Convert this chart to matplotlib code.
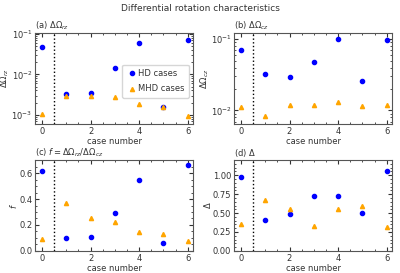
import matplotlib.pyplot as plt
import numpy as np

cases = [0, 1, 2, 3, 4, 5, 6]

# (a) Delta Omega_rz
hd_rz = [0.047, 0.00334, 0.0034, 0.0144, 0.060, 0.00157, 0.070]
mhd_rz = [0.00102, 0.00296, 0.0030, 0.00274, 0.00188, 0.00155, 0.00091]

# (b) Delta Omega_cz
hd_cz = [0.0713, 0.0324, 0.0296, 0.0475, 0.100, 0.0258, 0.0967]
mhd_cz = [0.0113, 0.0084, 0.0120, 0.0118, 0.0130, 0.0116, 0.0121]

# (c) f
hd_f = [0.616, 0.100, 0.110, 0.290, 0.547, 0.060, 0.666]
mhd_f = [0.089, 0.366, 0.250, 0.226, 0.142, 0.134, 0.074]

# (d) Delta
hd_d = [0.98, 0.408, 0.486, 0.729, 0.729, 0.505, 1.059]
mhd_d = [0.353, 0.679, 0.56, 0.335, 0.56, 0.587, 0.312]

plt.rcParams['font.size'] = 6
plt.rcParams['text.color'] = '#333333'
plt.rcParams['axes.labelcolor'] = '#333333'
plt.rcParams['xtick.color'] = '#333333'
plt.rcParams['ytick.color'] = '#333333'
plt.rcParams['axes.edgecolor'] = '#555555'

fig, axes = plt.subplots(2, 2, figsize=(4, 2.73), dpi=100)
fig.subplots_adjust(left=0.088, right=0.98, top=0.879, bottom=0.081,
                    wspace=0.26, hspace=0.4)
fig.suptitle('Differential rotation characteristics', fontsize=6.5, y=0.985)

panels = [
    (axes[0, 0], hd_rz, mhd_rz, r'(a) $\Delta\Omega_{rz}$', r'$\Delta\Omega_{rz}$'),
    (axes[0, 1], hd_cz, mhd_cz, r'(b) $\Delta\Omega_{cz}$', r'$\Delta\Omega_{cz}$'),
    (axes[1, 0], hd_f, mhd_f, r'(c) $f = \Delta\Omega_{rz}/\Delta\Omega_{cz}$', r'$f$'),
    (axes[1, 1], hd_d, mhd_d, r'(d) $\Delta$', r'$\Delta$'),
]

for ax, hd, mhd, title, ylab in panels:
    ax.plot(cases, hd, 'o', color='blue', ms=3, label='HD cases')
    ax.plot(cases, mhd, '^', color='orange', ms=3, label='MHD cases')
    ax.axvline(0.5, color='k', ls=':', lw=1)
    ax.set_title(title, loc='left', fontsize=6, pad=3)
    ax.set_ylabel(ylab, labelpad=0)
    ax.set_xlabel('case number', labelpad=1)
    ax.set_xticks([0, 2, 4, 6])
    ax.set_xlim(-0.28, 6.22)
    ax.minorticks_on()
    ax.tick_params(which='both', direction='in', top=True, right=True, pad=2)
    ax.tick_params(which='major', length=3)
    ax.tick_params(which='minor', length=1.5)

axes[0, 0].set_yscale('log')
axes[0, 0].set_ylim(6e-4, 0.105)
axes[0, 1].set_yscale('log')
axes[0, 1].set_ylim(6.5e-3, 0.122)
axes[1, 0].set_ylim(0, 0.7)
axes[1, 1].set_ylim(0, 1.2)
axes[1, 1].set_yticks([0, 0.25, 0.5, 0.75, 1.0])

axes[0, 0].legend(loc='center right', fontsize=6, handletextpad=0.2,
                  handlelength=1.2, borderpad=0.5, labelspacing=0.8,
                  bbox_to_anchor=(1.0, 0.47))

plt.savefig('out.png')
